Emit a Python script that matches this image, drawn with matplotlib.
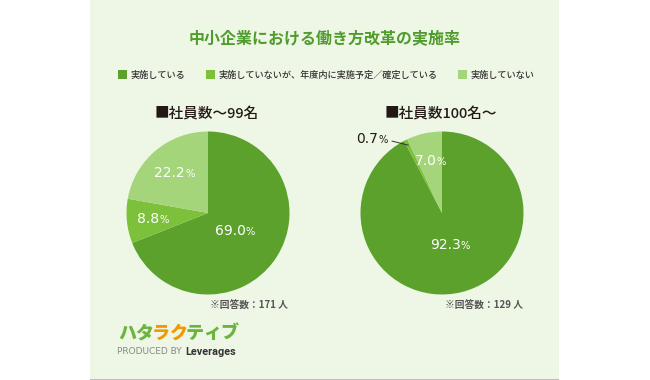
import numpy as np
import matplotlib.pyplot as plt
from matplotlib.patches import Rectangle, Patch
from matplotlib.offsetbox import TextArea, HPacker, AnnotationBbox

plt.rcParams['font.family'] = ['Noto Sans CJK JP', 'DejaVu Sans']

# データ
kategorien = ['実施している', '実施していないが、年度内に実施予定／確定している', '実施していない']
werte_klein = [69.0, 8.8, 22.2]
werte_gross = [92.3, 0.7, 7.0]
titel_klein = '■社員数～99名'
titel_gross = '■社員数100名～'
antworten_klein = '※回答数：171 人'
antworten_gross = '※回答数：129 人'

farben = ['#5ba12b', '#7cc03b', '#a5d57b']
hintergrund = '#eef7e6'
W, H = 650, 380


def fx(px):
    return px / W


def fy(py):
    return 1 - py / H


fig = plt.figure(figsize=(6.5, 3.8), dpi=100)
fig.patch.set_facecolor('white')
fig.add_artist(Rectangle((fx(90), 0), fx(469), 1, transform=fig.transFigure,
                         facecolor=hintergrund, edgecolor='none', zorder=0))
fig.add_artist(Rectangle((fx(90), 0), fx(469), fy(378.5), transform=fig.transFigure,
                         facecolor='#bdbdbd', edgecolor='none', zorder=0))

fig.text(fx(325), fy(38), '中小企業における働き方改革の実施率', ha='center', va='center',
         fontsize=11.5, fontweight='bold', color='#4f9c2c')

handles = [Patch(facecolor=c, edgecolor='none') for c in farben]
fig.legend(handles, kategorien, loc='center', bbox_to_anchor=(fx(326), fy(75)), ncol=3,
           frameon=False, handlelength=1.0, handleheight=1.0,
           handletextpad=0.4, columnspacing=2.2, labelcolor='#333333',
           prop=dict(size=6.6, weight='medium'))


def prozent_label(ax, x, y, zahl, farbe, gr=10):
    teile = [TextArea(zahl, textprops=dict(color=farbe, fontsize=gr, family='DejaVu Sans')),
             TextArea('%', textprops=dict(color=farbe, fontsize=gr * 0.72, family='DejaVu Sans'))]
    box = HPacker(children=teile, align='baseline', pad=0, sep=0.3)
    ab = AnnotationBbox(box, (x, y), frameon=False, box_alignment=(0.5, 0.5))
    ax.add_artist(ab)


def torte(cx, cy, werte, radien, titel, antworten, tx, ax_x):
    r = 81.5
    ax = fig.add_axes([fx(cx - r), fy(cy + r), fx(2 * r), 2 * r / H])
    wedges, _ = ax.pie(werte, colors=farben, startangle=90, counterclock=False,
                       wedgeprops=dict(linewidth=0))
    ax.set_xlim(-1, 1)
    ax.set_ylim(-1, 1)
    for w, v, rf in zip(wedges, werte, radien):
        if rf is None:
            continue
        mitte = np.deg2rad((w.theta1 + w.theta2) / 2)
        prozent_label(ax, rf * np.cos(mitte), rf * np.sin(mitte), f'{v:.1f}', 'white')
    fig.text(fx(tx), fy(114), titel, ha='left', va='center', fontsize=10.5,
             fontweight='medium', color='#231815')
    fig.text(fx(ax_x), fy(305), antworten, ha='right', va='center', fontsize=7,
             fontweight='bold', color='#555555')
    return ax, wedges


torte(208, 213, werte_klein, [0.4, 0.68, 0.64], titel_klein, antworten_klein, 155, 288)
ax2, keile = torte(442, 213, werte_gross, [0.41, None, 0.65], titel_gross, antworten_gross, 385, 523)

# 0.7% mit Führungslinie
k = keile[1]
m = np.deg2rad((k.theta1 + k.theta2) / 2)
px, py = 0.93 * np.cos(m), 0.93 * np.sin(m)
ax2.annotate('', xy=(px, py), xytext=(px - 0.2, py + 0.05),
             arrowprops=dict(arrowstyle='-', color='#333333', lw=0.7, shrinkA=0, shrinkB=0))
prozent_label(ax2, px - 0.44, py + 0.07, f'{werte_gross[1]:.1f}', '#231815')

# Logo
logo = 'ハタラクティブ'
logo_farben = ['#6db33f', '#6db33f', '#f39800', '#f39800', '#6db33f', '#6db33f', '#6db33f']
x0 = 118
for ch, c in zip(logo, logo_farben):
    fig.text(fx(x0), fy(333), ch, ha='left', va='center', fontsize=13, fontweight='black',
             color=c, style='italic')
    x0 += 17
fig.text(fx(117), fy(352), 'PRODUCED BY', ha='left', va='center', fontsize=6.5,
         color='#888888', family='DejaVu Sans')
fig.text(fx(185), fy(352), 'Leverages', ha='left', va='center', fontsize=7.8,
         fontweight='bold', color='#333333', family='Roboto')

fig.savefig('out.png', dpi=100, facecolor=fig.get_facecolor())
